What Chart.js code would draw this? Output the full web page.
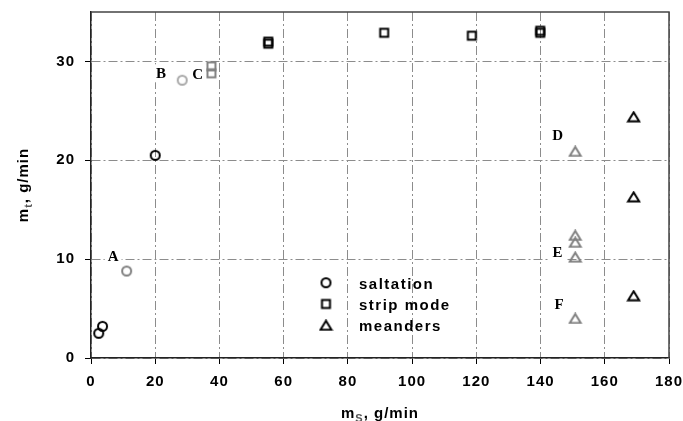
<!DOCTYPE html>
<html><head><meta charset="utf-8">
<style>html,body{margin:0;padding:0;background:#fff;}#wrap{width:683px;height:421px;}</style>
<script src="https://cdn.jsdelivr.net/npm/chart.js@4.4.1/dist/chart.umd.min.js"></script>
</head><body><div id="wrap"><canvas id="c" width="683" height="421"></canvas></div>
<script>
// ---- data ----
const seriesNames = ['saltation', 'strip mode', 'meanders'];
const saltX = [2.4, 3.6, 11.1, 20.0, 28.4];
const saltY = [2.5, 3.2, 8.8, 20.5, 28.1];
const saltTone = ['black', 'black', 'gray', 'black', 'light'];
const stripX = [37.5, 37.5, 55.2, 55.2, 91.3, 118.6, 139.9, 139.9];
const stripY = [29.5, 28.8, 32.0, 31.8, 32.9, 32.6, 33.1, 32.9];
const stripTone = ['gray', 'gray', 'black', 'black', 'black', 'black', 'black', 'black'];
const meanX = [169.0, 169.0, 169.0, 150.8, 150.8, 150.8, 150.8, 150.8];
const meanY = [24.4, 16.3, 6.3, 20.9, 12.4, 11.7, 10.2, 4.0];
const meanTone = ['black', 'black', 'black', 'gray', 'gray', 'gray', 'gray', 'gray'];
const noteLabels = ['A', 'B', 'C', 'D', 'E', 'F'];
const noteX = [6.9, 21.8, 33.2, 145.3, 145.3, 145.8];
const noteY = [10.3, 28.8, 28.7, 22.5, 10.7, 5.4];
const xTickValues = [0, 20, 40, 60, 80, 100, 120, 140, 160, 180];
const yTickValues = [0, 10, 20, 30];

// ---- styles ----
const toneColor = { black: '#000000', gray: '#808080', light: '#a9a9a9' };
const SANS = '"Liberation Sans", Arial, sans-serif';
const SERIF = '"Liberation Serif", "Times New Roman", serif';

const markerCache = {};
function marker(shape, color) {
  const key = shape + color;
  if (markerCache[key]) return markerCache[key];
  const c = document.createElement('canvas');
  const tri = shape === 'triangle';
  c.width = tri ? 15 : 13; c.height = tri ? 12 : 13;
  const g = c.getContext('2d');
  g.strokeStyle = color; g.lineWidth = 2; g.lineJoin = 'miter';
  g.beginPath();
  if (shape === 'circle') g.arc(6.5, 6.5, 4.5, 0, Math.PI * 2);
  else if (shape === 'rect') g.rect(2.5, 2.5, 8, 8);
  else { g.moveTo(2, 10.5); g.lineTo(13, 10.5); g.lineTo(7.5, 1.5); g.closePath(); }
  g.stroke();
  markerCache[key] = c;
  return c;
}
const shapes = ['circle', 'rect', 'triangle'];
function pts(xs, ys) { return xs.map((x, i) => ({ x: x, y: ys[i] })); }
function ds(label, xs, ys, tones, shape) {
  return {
    label: label, data: pts(xs, ys), showLine: false,
    pointRadius: 5, pointHoverRadius: 5,
    pointStyle: (ctx) => marker(shape, toneColor[tones[ctx.dataIndex]] || '#000')
  };
}

function drawTitle(ctx, main, sub, rest, cx, cy, rot) {
  ctx.save();
  ctx.translate(cx, cy);
  if (rot) ctx.rotate(rot);
  ctx.fillStyle = '#000';
  ctx.textBaseline = 'alphabetic';
  ctx.textAlign = 'left';
  const f1 = 'bold 15px ' + SANS, f2 = 'bold 11px ' + SANS;
  ctx.letterSpacing = '1px';
  ctx.font = f1; const w1 = ctx.measureText(main).width;
  ctx.font = f2; const w2 = ctx.measureText(sub).width;
  ctx.font = f1; const w3 = ctx.measureText(rest).width;
  let x = -(w1 + w2 + w3) / 2;
  ctx.font = f1; ctx.fillText(main, x, 0); x += w1;
  ctx.font = f2; ctx.fillStyle = '#555'; ctx.fillText(sub, x, 4); x += w2;
  ctx.font = f1; ctx.fillStyle = '#000'; ctx.fillText(rest, x, 0);
  ctx.restore();
}

const decor = {
  id: 'decor',
  beforeDraw(chart) { chart.ctx.letterSpacing = '1px'; },
  afterDatasetsDraw(chart) {
    const ctx = chart.ctx, a = chart.chartArea;
    const xs = chart.scales.x, ys = chart.scales.y;
    // frame top/right
    ctx.save();
    ctx.strokeStyle = '#444'; ctx.lineWidth = 1.5;
    ctx.beginPath();
    ctx.moveTo(a.left, a.top); ctx.lineTo(a.right, a.top); ctx.lineTo(a.right, a.bottom);
    ctx.stroke();
    ctx.restore();
    // annotations
    ctx.save();
    ctx.letterSpacing = '0px';
    ctx.font = 'bold 15px ' + SERIF;
    ctx.textAlign = 'center'; ctx.textBaseline = 'middle';
    noteLabels.forEach((t, i) => {
      const px = xs.getPixelForValue(noteX[i]), py = ys.getPixelForValue(noteY[i]);
      const w = ctx.measureText(t).width + 6;
      ctx.fillStyle = '#fff';
      ctx.fillRect(px - w / 2, py - 9, w, 18);
      ctx.fillStyle = '#000';
      ctx.fillText(t, px, py + 1);
    });
    ctx.restore();
    // legend
    ctx.save();
    ctx.letterSpacing = '1.5px';
    ctx.font = 'bold 15px ' + SANS;
    ctx.fillStyle = '#000'; ctx.textAlign = 'left'; ctx.textBaseline = 'alphabetic';
    const lx = a.left + 235, tx = a.left + 268, ly0 = a.top + 270.7;
    seriesNames.forEach((n, i) => {
      const y = ly0 + i * 21.3;
      const m = marker(shapes[i], '#000');
      ctx.drawImage(m, lx - m.width / 2, y - m.height / 2);
      ctx.fillText(n, tx, y + 6);
    });
    ctx.restore();
    // axis titles
    drawTitle(ctx, 'm', 't', ', g/min', 28, (a.top + a.bottom) / 2, -Math.PI / 2);
    drawTitle(ctx, 'm', 'S', ', g/min', (a.left + a.right) / 2, 418, 0);
  }
};

const tickFont = { family: SANS, size: 15, weight: 'bold' };
new Chart(document.getElementById('c'), {
  type: 'scatter',
  data: {
    datasets: [
      ds(seriesNames[0], saltX, saltY, saltTone, 'circle'),
      ds(seriesNames[1], stripX, stripY, stripTone, 'rect'),
      ds(seriesNames[2], meanX, meanY, meanTone, 'triangle')
    ]
  },
  options: {
    responsive: false, animation: false, events: [],
    layout: { padding: { top: 12, right: 14, left: 0, bottom: 0 } },
    plugins: { legend: { display: false }, tooltip: { enabled: false } },
    scales: {
      x: {
        type: 'linear', min: 0, max: 180,
        afterBuildTicks: (s) => { s.ticks = xTickValues.map(v => ({ value: v })); },
        afterFit: (s) => { s.height = 63; s.paddingLeft = 0; s.paddingRight = 0; },
        ticks: { font: tickFont, color: '#000', padding: 9, maxRotation: 0, autoSkip: false },
        grid: { color: '#8c8c8c', lineWidth: 1, tickLength: 6, tickColor: '#000', tickBorderDash: [] },
        border: { color: '#222', width: 1.5, dash: [9, 3, 2, 3] }
      },
      y: {
        type: 'linear', min: 0, max: 35,
        afterBuildTicks: (s) => { s.ticks = yTickValues.map(v => ({ value: v })); },
        afterFit: (s) => { s.width = 91; s.paddingTop = 0; s.paddingBottom = 0; },
        ticks: { font: tickFont, color: '#000', padding: 10, autoSkip: false },
        grid: { color: '#8c8c8c', lineWidth: 1, tickLength: 6, tickColor: '#000', tickBorderDash: [] },
        border: { color: '#222', width: 1.5, dash: [9, 3, 2, 3] }
      }
    }
  },
  plugins: [decor]
});
</script>
</body></html>
